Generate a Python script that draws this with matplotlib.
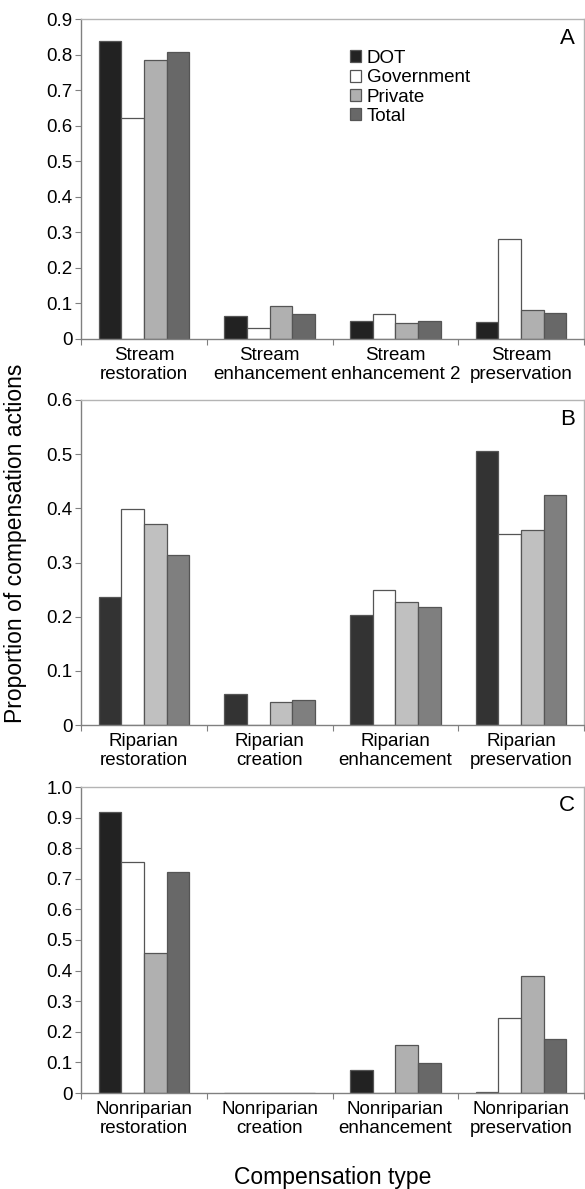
import numpy as np
import matplotlib.pyplot as plt
from matplotlib.ticker import FixedLocator, NullFormatter

plt.rcParams['font.family'] = ['Liberation Sans', 'DejaVu Sans']

series = ['DOT', 'Government', 'Private', 'Total']

# Panel A - stream
cats_a = ['Stream\nrestoration', 'Stream\nenhancement', 'Stream\nenhancement 2', 'Stream\npreservation']
dot_a = [0.838, 0.066, 0.051, 0.049]
gov_a = [0.621, 0.032, 0.069, 0.282]
priv_a = [0.786, 0.093, 0.044, 0.081]
total_a = [0.808, 0.070, 0.050, 0.074]

# Panel B - riparian
cats_b = ['Riparian\nrestoration', 'Riparian\ncreation', 'Riparian\nenhancement', 'Riparian\npreservation']
dot_b = [0.237, 0.057, 0.203, 0.506]
gov_b = [0.398, 0.0, 0.250, 0.353]
priv_b = [0.372, 0.043, 0.227, 0.360]
total_b = [0.313, 0.046, 0.218, 0.425]

# Panel C - nonriparian
cats_c = ['Nonriparian\nrestoration', 'Nonriparian\ncreation', 'Nonriparian\nenhancement', 'Nonriparian\npreservation']
dot_c = [0.919, 0.0, 0.075, 0.004]
gov_c = [0.756, 0.0, 0.0, 0.245]
priv_c = [0.458, 0.0, 0.157, 0.382]
total_c = [0.723, 0.0, 0.099, 0.178]

colors_ac = ['#222222', '#ffffff', '#b0b0b0', '#686868']
colors_b = ['#333333', '#ffffff', '#c0c0c0', '#7f7f7f']

fig = plt.figure(figsize=(5.85, 11.89), dpi=100)

W, H = 585, 1189
left, right = 81, 584
# (top pixel, zero pixel)
boxes = [(19, 339), (400, 725), (787, 1093)]

panels = [
    (cats_a, [dot_a, gov_a, priv_a, total_a], colors_ac, 0.9, 'A'),
    (cats_b, [dot_b, gov_b, priv_b, total_b], colors_b, 0.6, 'B'),
    (cats_c, [dot_c, gov_c, priv_c, total_c], colors_ac, 1.0, 'C'),
]

bw = 0.18
for i, (cats, vals, cols, ymax, tag) in enumerate(panels):
    top, zero = boxes[i]
    ax = fig.add_axes([left / W, 1 - zero / H, (right - left) / W, (zero - top) / H])
    x = np.arange(len(cats))
    for j, v in enumerate(vals):
        ax.bar(x + (j - 1.5) * bw, v, bw, color=cols[j], edgecolor='#555555',
               linewidth=0.9, label=series[j])
    ax.set_xlim(-0.5, 3.5)
    ax.set_ylim(0, ymax)
    ticks = np.round(np.arange(0, ymax + 0.001, 0.1), 1)
    ax.set_yticks(ticks)
    ax.set_yticklabels(['0'] + ['%.1f' % t for t in ticks[1:]])
    # boundaries as major ticks, labels on minor ticks at centres
    ax.xaxis.set_major_locator(FixedLocator([-0.5, 0.5, 1.5, 2.5, 3.5]))
    ax.xaxis.set_major_formatter(NullFormatter())
    ax.set_xticks(x, minor=True)
    ax.set_xticklabels(cats, minor=True, fontsize=13.5, linespacing=1.1)
    ax.tick_params(axis='x', which='minor', length=0, pad=6)
    ax.tick_params(axis='x', which='major', length=4, color='#808080', direction='out')
    ax.tick_params(axis='y', length=4, color='#808080', labelsize=13.5, pad=2)
    for s in ['left', 'bottom']:
        ax.spines[s].set_color('#808080')
        ax.spines[s].set_linewidth(1.0)
    for s in ['top', 'right']:
        ax.spines[s].set_color('#b4b4b4')
        ax.spines[s].set_linewidth(1.0)
    ax.text(0.982, 0.94, tag, transform=ax.transAxes, ha='right', va='center', fontsize=16)
    if i == 0:
        ax.legend(loc='upper left', bbox_to_anchor=((350 - left) / (right - left), 1 - (50 - top) / (zero - top)),
                  frameon=False, fontsize=13.5, handlelength=0.6, handleheight=0.6,
                  handletextpad=0.3, labelspacing=0.12, borderpad=0, borderaxespad=0)

fig.text(0.026, 1 - 543 / H, 'Proportion of compensation actions', rotation=90,
         ha='center', va='center', fontsize=16.5)
fig.text((left + right) / 2 / W, 5 / H, 'Compensation type', ha='center', va='baseline', fontsize=16.5)

plt.savefig('out.png', dpi=100)
